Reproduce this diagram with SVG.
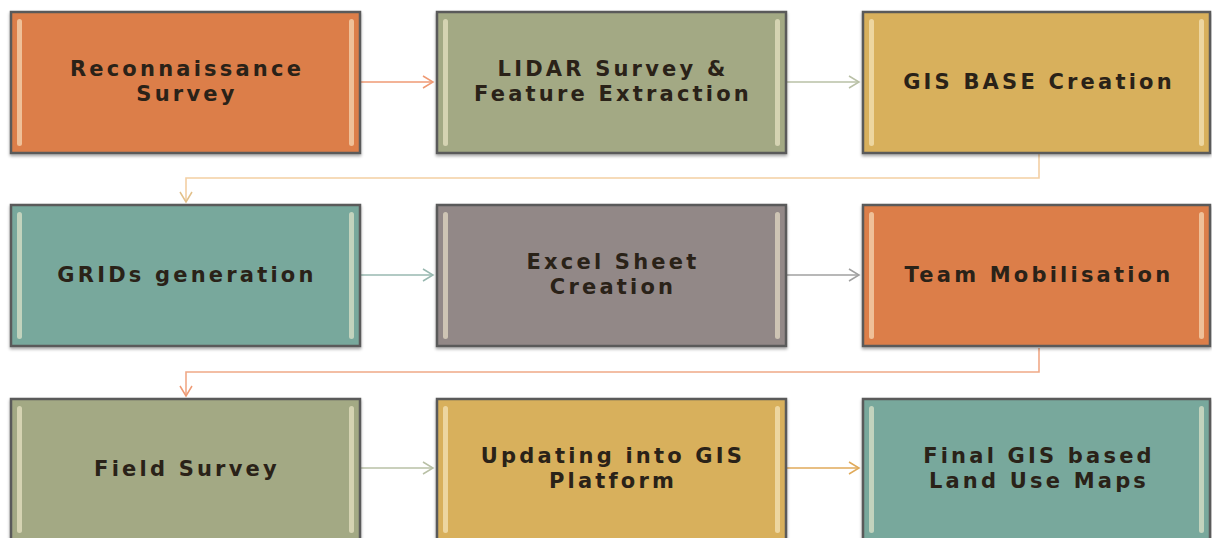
<svg xmlns="http://www.w3.org/2000/svg" width="1212" height="538" viewBox="0 0 1212 538">
<style>
.box{stroke:#5a5a5a;stroke-width:2.5}
.hl{fill:#fff6d8;opacity:0.55}
.t{font-family:"DejaVu Sans","Liberation Sans",sans-serif;font-size:21px;font-weight:bold;fill:#2a2218;text-anchor:middle;letter-spacing:3.2px}
.c{fill:none;stroke-width:1.6}
</style>
<defs>
<filter id="sh" x="-5%" y="-5%" width="110%" height="115%"><feDropShadow dx="0" dy="2" stdDeviation="1.5" flood-color="#000" flood-opacity="0.35"/></filter>
<marker id="a1" markerWidth="14" markerHeight="14" refX="11" refY="7" orient="auto" markerUnits="userSpaceOnUse"><path d="M1,1 L11,7 L1,13" fill="none" stroke="#ef9a74" stroke-width="1.5"/></marker>
<marker id="a2" markerWidth="14" markerHeight="14" refX="11" refY="7" orient="auto" markerUnits="userSpaceOnUse"><path d="M1,1 L11,7 L1,13" fill="none" stroke="#b9c0a6" stroke-width="1.5"/></marker>
<marker id="a3" markerWidth="14" markerHeight="14" refX="11" refY="7" orient="auto" markerUnits="userSpaceOnUse"><path d="M1,1 L11,7 L1,13" fill="none" stroke="#e2c08a" stroke-width="1.5"/></marker>
<marker id="a4" markerWidth="14" markerHeight="14" refX="11" refY="7" orient="auto" markerUnits="userSpaceOnUse"><path d="M1,1 L11,7 L1,13" fill="none" stroke="#98b8b0" stroke-width="1.5"/></marker>
<marker id="a5" markerWidth="14" markerHeight="14" refX="11" refY="7" orient="auto" markerUnits="userSpaceOnUse"><path d="M1,1 L11,7 L1,13" fill="none" stroke="#a0a0a0" stroke-width="1.5"/></marker>
<marker id="a6" markerWidth="14" markerHeight="14" refX="11" refY="7" orient="auto" markerUnits="userSpaceOnUse"><path d="M1,1 L11,7 L1,13" fill="none" stroke="#e0aa5a" stroke-width="1.5"/></marker>
</defs>
<rect width="1212" height="538" fill="#fff"/>
<g id="connectors">
<path class="c" d="M361,82 H433" stroke="#ef9a74" marker-end="url(#a1)"/>
<path class="c" d="M787,82 H859" stroke="#b9c0a6" marker-end="url(#a2)"/>
<path class="c" d="M1039,154 V178 H186 V202" stroke="#f3cfa3" marker-end="url(#a3)"/>
<path class="c" d="M361,275 H433" stroke="#98b8b0" marker-end="url(#a4)"/>
<path class="c" d="M787,275 H859" stroke="#a0a0a0" marker-end="url(#a5)"/>
<path class="c" d="M1039,348 V372 H186 V396" stroke="#f0a987" marker-end="url(#a1)"/>
<path class="c" d="M361,468 H433" stroke="#b9c0a6" marker-end="url(#a2)"/>
<path class="c" d="M787,468 H859" stroke="#e0aa5a" marker-end="url(#a6)"/>
</g>
<g id="n1"><rect class="box" x="11" y="12" width="349" height="141" fill="#dc7e49" filter="url(#sh)"/><rect class="hl" x="17" y="19" width="5" height="127" rx="2.5"/><rect class="hl" x="349" y="19" width="5" height="127" rx="2.5"/><text class="t" x="187" y="76">Reconnaissance</text><text class="t" x="187" y="101">Survey</text></g>
<g id="n2"><rect class="box" x="437" y="12" width="349" height="141" fill="#a3a984" filter="url(#sh)"/><rect class="hl" x="443" y="19" width="5" height="127" rx="2.5"/><rect class="hl" x="775" y="19" width="5" height="127" rx="2.5"/><text class="t" x="613" y="76">LIDAR Survey &amp;</text><text class="t" x="613" y="101">Feature Extraction</text></g>
<g id="n3"><rect class="box" x="863" y="12" width="347" height="141" fill="#d8b05b" filter="url(#sh)"/><rect class="hl" x="869" y="19" width="5" height="127" rx="2.5"/><rect class="hl" x="1199" y="19" width="5" height="127" rx="2.5"/><text class="t" x="1039" y="89">GIS BASE Creation</text></g>
<g id="n4"><rect class="box" x="11" y="205" width="349" height="141" fill="#78a89c" filter="url(#sh)"/><rect class="hl" x="17" y="212" width="5" height="127" rx="2.5"/><rect class="hl" x="349" y="212" width="5" height="127" rx="2.5"/><text class="t" x="187" y="282">GRIDs generation</text></g>
<g id="n5"><rect class="box" x="437" y="205" width="349" height="141" fill="#928887" filter="url(#sh)"/><rect class="hl" x="443" y="212" width="5" height="127" rx="2.5"/><rect class="hl" x="775" y="212" width="5" height="127" rx="2.5"/><text class="t" x="613" y="269">Excel Sheet</text><text class="t" x="613" y="294">Creation</text></g>
<g id="n6"><rect class="box" x="863" y="205" width="347" height="141" fill="#dc7e49" filter="url(#sh)"/><rect class="hl" x="869" y="212" width="5" height="127" rx="2.5"/><rect class="hl" x="1199" y="212" width="5" height="127" rx="2.5"/><text class="t" x="1039" y="282">Team Mobilisation</text></g>
<g id="n7"><rect class="box" x="11" y="399" width="349" height="141" fill="#a3a984" filter="url(#sh)"/><rect class="hl" x="17" y="406" width="5" height="127" rx="2.5"/><rect class="hl" x="349" y="406" width="5" height="127" rx="2.5"/><text class="t" x="187" y="476">Field Survey</text></g>
<g id="n8"><rect class="box" x="437" y="399" width="349" height="141" fill="#d8b05b" filter="url(#sh)"/><rect class="hl" x="443" y="406" width="5" height="127" rx="2.5"/><rect class="hl" x="775" y="406" width="5" height="127" rx="2.5"/><text class="t" x="613" y="463">Updating into GIS</text><text class="t" x="613" y="488">Platform</text></g>
<g id="n9"><rect class="box" x="863" y="399" width="347" height="141" fill="#78a89c" filter="url(#sh)"/><rect class="hl" x="869" y="406" width="5" height="127" rx="2.5"/><rect class="hl" x="1199" y="406" width="5" height="127" rx="2.5"/><text class="t" x="1039" y="463">Final GIS based</text><text class="t" x="1039" y="488">Land Use Maps</text></g>
</svg>
